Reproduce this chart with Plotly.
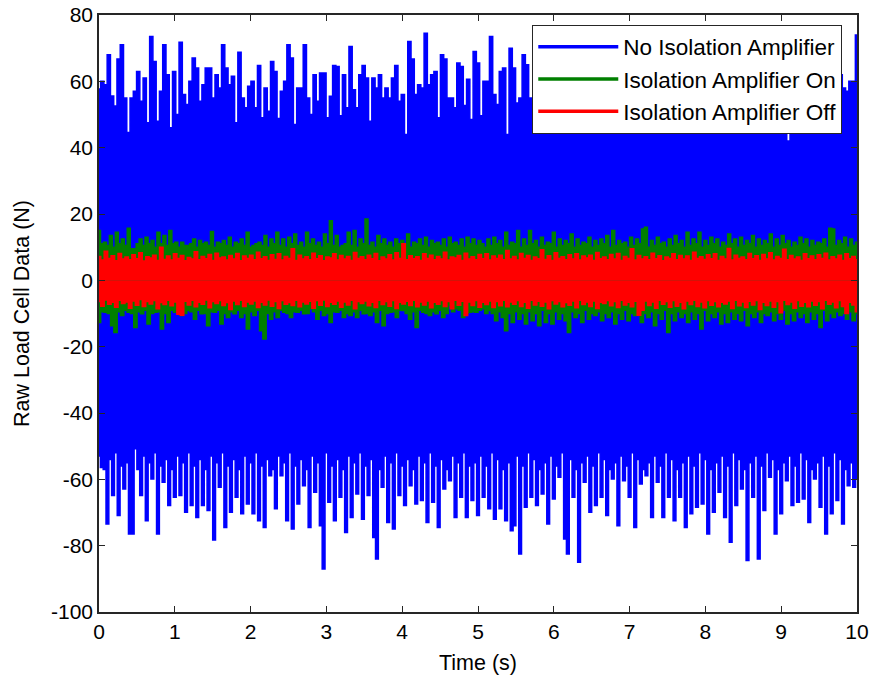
import numpy as np
import plotly.graph_objects as go

# ---- Data (estimated envelope samples, N) ----
# Blue: "No Isolation Amplifier" upper and lower sample extremes
blue_upper = [57.7, 60, 59, 68, 55.6, 52.6, 66.7, 71, 55, 44.6,
              55, 57, 63, 54, 61, 47.5, 73.5, 66, 48, 57,
              71, 62, 46, 63, 50, 71.8, 56, 53, 60, 67,
              64, 54, 59, 64, 64, 55, 62, 58, 71, 64,
              59, 61.5, 47.5, 68.8, 55, 52, 58.5, 60, 52, 64.8,
              49, 58, 51, 66, 63, 48.8, 57, 60, 71, 67,
              47, 58, 58, 71, 55, 50, 62, 54, 62.5, 62.5,
              49, 55.5, 64.8, 64.5, 49.6, 62, 52, 70.5, 57.5, 52,
              62, 64.8, 61, 48, 61, 58, 62, 55, 58, 55,
              61, 64.8, 54, 56, 44, 72, 66.7, 56, 59, 58,
              74.5, 59, 62, 63, 49, 68, 66.7, 55, 55, 52,
              65.5, 64.5, 52.7, 60.6, 48.5, 69, 65.5, 49.6, 60, 60,
              73.5,
              56, 53, 63, 64, 44, 70, 64, 53.5, 55, 68,
              65, 55, 53.5, 53, 70.4, 64,
              55, 62, 48, 66, 58, 71, 52, 60, 64, 50,
              68, 57, 61, 47, 63, 70, 54, 59, 66, 51,
              62, 72, 56, 49, 65, 60, 53, 67, 58, 46,
              63, 69, 55, 61, 52, 66, 59, 71, 50, 57,
              64, 48, 62, 68, 54, 60, 73, 56, 51, 65,
              58, 62, 47, 67, 55, 61, 70, 53, 59, 64,
              49, 66, 57, 62, 52, 68, 60, 55, 71, 50,
              63, 58, 65, 48, 42, 67, 54, 59, 61, 44,
              56, 66, 51, 62, 60, 64, 53, 69, 57, 49,
              62, 58,
              57, 60, 60, 74]

blue_lower = [-53, -56.4, -57, -73.5, -54, -64.9, -52, -70.9, -56, -62.9,
              -55, -76.5, -76.5, -50.8, -57, -64.9, -53, -72.5, -55, -59.9,
              -52, -76.5, -56, -60.9, -54, -67.9, -57, -65.4, -53, -64.9,
              -55, -69.9, -52, -67.9, -56, -71.5, -54, -67.9, -57, -69.4,
              -53, -78.3, -55, -62.4, -52, -74.5, -56, -69.9, -54, -65.4,
              -57, -70.4, -53, -67.4, -55, -70.4, -52, -72.5, -56, -74.5,
              -54, -58.9, -57, -68.9, -53, -58.9, -55, -72.5, -52, -75,
              -56, -67.4, -54, -61.9, -57, -74.5, -53, -63.9, -55, -74,
              -87, -52, -66.9, -56, -72.5, -54, -65.4, -57, -76, -53,
              -71.5, -55, -64.4, -52, -72, -56, -64.9, -54, -77.5, -84,
              -57, -62.4, -53, -73, -55, -75, -52, -64.9, -56, -67.9,
              -54, -61.9, -57, -67.4, -53, -66.4, -55, -73, -52, -66.9,
              -56, -74.5, -54, -62.9, -57, -60.4, -53, -71.5, -55, -65.4,
              -52, -71.5, -56, -66.4,
              -55, -70.9, -53, -65.4, -56, -68.9, -52, -72, -54, -68.9,
              -57, -72.5, -55, -75.5, -74, -53, -82.5, -56, -68.4, -52,
              -65.4, -54, -67.9, -57, -64.4, -55, -73.5, -53, -65.9, -56,
              -59.4, -52, -78, -82.5, -54, -65.4, -57, -85, -55, -60.9,
              -53, -69.9, -56, -67.9, -52, -65.4, -54, -70.9, -57, -59.9,
              -55, -74, -53, -60.4, -56, -65.4, -52, -74.5, -54, -61.4,
              -57, -58.9, -55, -71.5, -53, -60.9, -56, -71.5, -52, -65.4,
              -54, -72.5, -57, -65.4, -55, -74.5, -53, -70.4, -56, -68.4,
              -52, -67.4, -54, -76.5, -57, -69.9, -55, -63.9, -53, -71.5,
              -56, -79, -52, -67.9, -54, -62.9, -57, -84.5, -55, -65.4,
              -53, -84, -56, -69.4, -52, -59.4, -54, -76.5, -57, -70.4,
              -55, -60.4, -53, -67.9, -56, -66.9, -52, -65.9, -54, -73,
              -57, -59.9, -55, -68.4, -53, -76.5, -56, -70.4, -52, -66.4,
              -54, -73.5, -57, -61.9, -55, -62.4, -60]

# Green: "Isolation Amplifier On"
green_upper = [15, 11, 11.5, 10.5, 13.5, 10, 14.5, 11, 12.5, 10.5,
               15.7, 9.5, 9.5, 11, 12.5, 10.5, 13, 11, 12, 10,
               14.5, 11, 13.5, 10.5, 15, 11, 11.5, 10, 11.5, 10.5,
               10.5, 11, 12.5, 10, 12, 11, 11.5, 10.5, 14.7, 10,
               11.5, 11, 12, 10.5, 13, 10, 11.5, 11, 12.5, 10.5,
               14.5, 10, 10.5, 11, 11.5, 10.5, 13.5, 10, 12.5, 11,
               14.5, 10.5, 12.5, 10, 13, 11, 14, 10.5, 11.5, 10,
               14.5, 11, 12.5, 10.5, 11.5, 10, 14, 11, 18, 10.5,
               13.5, 10, 10.5, 11, 14.5, 10.5, 15, 10, 12.5, 11,
               18.5, 10.5, 11.5, 10, 13.5, 11, 12.5, 10.5, 11.5, 10,
               12.5, 11, 12, 10.5, 14, 10, 11.5, 11, 12.5, 10.5,
               13, 10, 12, 11, 11.5, 10.5, 12.5, 10, 13, 11,
               11.5, 10.5, 12.5, 10, 13, 11, 12.5, 10.5, 12,
               11, 10, 12.5, 10.5, 13, 11, 12, 10, 14.5, 10.5,
               11.5, 11, 15, 10, 12.5, 10.5, 15, 11, 12, 10,
               13, 10.5, 11.5, 11, 14.5, 10, 12.5, 10.5, 12, 11,
               14, 10, 12.5, 10.5, 11.5, 11, 13, 10, 12, 10.5,
               12.5, 11, 13.5, 10, 15, 10.5, 12, 11, 11.5, 10,
               13, 10.5, 12.5, 11, 15.5, 16, 10, 12, 10.5, 13,
               11, 11.5, 10, 12.5, 10.5, 13.5, 11, 12, 10, 14.5,
               10.5, 12.5, 11, 14.5, 10, 12, 10.5, 13, 11, 12.5,
               10, 11.5, 10.5, 14, 11, 12.5, 10, 13, 10.5, 12,
               11, 13.5, 10, 12.5, 10.5, 12, 11, 14, 10, 12.5,
               10.5, 13.5, 11, 12, 10, 11.5, 10.5, 13, 11, 12.5,
               10, 12, 10.5, 11.5, 11, 12.5, 10, 15.7, 15.5, 10.5,
               12, 11, 13, 10, 12.5, 10.5, 11.5]

green_lower = [-12.7, -9.5, -9.6, -10, -13.7, -15.7, -9.5, -10.6, -9, -9.6,
               -10, -14.2, -9.5, -10.1, -9, -13.2, -10, -9.6, -9.5, -14.7,
               -10, -12.7, -9, -9.6, -9.5, -10.6, -10, -9.1, -9.5, -11.7,
               -9, -10.1, -10, -13.7, -9.5, -9.6, -9, -13.2, -10, -11.2,
               -9.5, -10.1, -9, -11.2, -10, -14.7, -9.5, -10.6, -9, -15.2,
               -17.7, -10, -11.7, -9.5, -11.2, -9, -9.6, -10, -11.2, -9.5,
               -9.6, -9, -10.1, -10, -8.6, -9.5, -11.7, -9, -10.6, -10,
               -12.7, -9.5, -9.6, -9, -11.2, -10, -10.6, -9.5, -11.2, -9,
               -10.1, -10, -10.6, -9.5, -12.7, -9, -13.7, -10, -9.6, -9.5,
               -11.2, -9, -9.1, -10, -11.7, -9.5, -14.2, -9, -9.6, -10,
               -10.6, -9.5, -10.1, -9, -11.2, -10, -7.6, -9.5, -8.6, -9,
               -11.2, -10, -9.6, -9.5, -9.6, -9, -8.6, -10, -9.1,
               -10, -12.2, -9.5, -11.2, -15.2, -10, -12.7, -9.5, -11.7, -10,
               -13.2, -9.5, -12.2, -10, -13.7, -9, -12.7, -10, -13.2, -9.5,
               -11.7, -10, -12.2, -15.7, -9.5, -11.2, -10, -12.7, -9, -11.7,
               -10, -10.6, -9.5, -12.2, -10, -11.2, -9.5, -13.2, -10, -11.7,
               -9, -12.2, -10, -10.6, -9.5, -12.7, -10, -11.2, -9.5, -13.7,
               -10, -11.7, -9, -15.7, -10, -12.2, -9.5, -11.2, -10, -12.7,
               -9.5, -11.7, -10, -14.7, -9, -12.2, -10, -11.2, -9.5, -13.2,
               -10, -12.7, -9.5, -11.7, -10, -12.2, -9, -13.7, -10, -11.2,
               -9.5, -12.7, -10, -10.6, -9.5, -12.2, -10, -11.7, -9, -13.2,
               -10, -12.2, -9.5, -11.2, -10, -12.7, -9.5, -11.7, -10, -14.2,
               -9, -12.2, -10, -11.2, -9.5, -10.6, -10, -11.7, -9.5, -12.2, -10]

# Red: "Isolation Amplifier Off"
red_upper = [7.2, 6.1, 8.8, 6.6, 7.4, 5.9, 8.1, 6.4, 7.0, 6.2,
             7.7, 6.5, 8.3, 5.8, 7.1, 6.7, 7.6, 6.0, 10.0, 6.3,
             7.3, 6.1, 8.0, 6.6, 7.5, 5.9, 6.9, 6.4, 8.6, 6.2,
             7.2, 6.5, 7.8, 6.0, 8.2, 6.7, 7.0, 6.1, 7.5, 6.4,
             8.1, 5.9, 7.3, 6.6, 7.6, 6.2, 8.5, 6.5, 7.1, 6.0,
             7.7, 6.3, 8.0, 6.1, 7.2, 6.6, 9.5, 6.0, 7.6, 6.4,
             7.1, 6.2, 8.2, 6.5, 7.4, 5.9, 7.0, 6.7, 8.0, 6.1,
             7.5, 6.4, 7.2, 6.0, 8.4, 6.6, 7.1, 6.2, 7.6, 6.5,
             8.1, 5.9, 7.0, 6.4, 7.7, 6.1, 8.3, 6.6, 11.0, 6.2,
             7.4, 6.5, 7.1, 6.0, 8.0, 6.6, 7.6, 6.2, 7.2, 6.4,
             8.5, 6.1, 7.0, 6.7, 7.5, 6.0, 8.2, 6.4, 7.1, 6.2,
             7.8, 6.5, 8.0, 6.1, 7.3, 6.6, 7.6, 6.2,
             9.0, 6.4, 7.2, 6.1, 8.1, 6.6, 7.5, 6.0, 7.0, 6.5,
             9.2, 6.3, 7.4, 6.0, 8.3, 6.6, 7.1, 6.2, 7.7, 6.4,
             8.0, 6.1, 7.3, 6.7, 7.6, 6.0, 8.4, 6.5, 7.0, 6.2,
             7.8, 6.4, 8.1, 6.0, 7.2, 6.6, 9.5, 6.1, 7.5, 6.4,
             7.1, 6.2, 8.2, 6.5, 7.4, 5.9, 7.0, 6.6, 8.0, 6.2,
             7.5, 6.4, 7.3, 6.0, 8.5, 6.6, 7.1, 6.3, 7.7, 6.5,
             8.0, 6.0, 7.2, 6.4, 9.6, 6.1, 7.6, 6.6, 7.0, 6.2,
             8.1, 6.5, 7.4, 6.0, 7.8, 6.4, 8.3, 6.1, 7.2, 6.6,
             9.4, 6.2, 7.5, 6.4, 7.0, 6.0, 8.0, 6.5, 7.3, 6.2,
             7.7, 6.6, 8.2, 6.1, 7.1, 6.4, 7.6, 6.0, 8.0, 6.5,
             7.2, 6.2]

red_lower = [-6.4, -7.8, -5.9, -7.2, -6.6, -8.1, -6.0, -7.0, -6.5, -8.4,
             -6.2, -7.5, -5.8, -7.9, -6.4, -7.1, -6.1, -8.6, -6.7, -7.3,
             -6.0, -7.7, -6.5, -10.2, -10.5, -6.3, -7.4, -6.0, -8.0, -6.6,
             -7.2, -5.9, -8.3, -6.4, -7.0, -6.1, -7.6, -6.7, -8.8, -6.2,
             -7.3, -6.0, -7.9, -6.5, -7.1, -6.2, -8.2, -6.6, -7.4, -5.9,
             -7.8, -6.4, -8.5, -6.1, -7.2, -6.7, -7.6, -6.0, -8.0, -6.5,
             -7.1, -6.3, -8.4, -6.1, -7.5, -5.9, -7.9, -6.6, -7.2, -6.2,
             -8.1, -6.5, -7.4, -6.0, -8.6, -6.4, -7.0, -6.2, -7.7, -6.6,
             -8.2, -6.0, -7.3, -6.4, -7.8, -6.1, -8.5, -6.6, -7.1, -6.3,
             -7.6, -6.0, -8.0, -6.5, -7.4, -6.2, -8.3, -6.6, -7.2, -6.1,
             -7.9, -6.4, -8.6, -6.0, -7.5, -6.3, -10.6, -6.5, -7.6, -6.1,
             -8.1, -6.6, -7.3, -6.2, -8.2, -6.4, -7.7, -6.0,
             -8.0, -6.5, -7.2, -6.1, -7.9, -6.6, -8.4, -6.0, -7.4, -6.3,
             -7.8, -6.5, -8.6, -6.1, -7.1, -6.4, -8.0, -6.7, -7.5, -6.2,
             -8.3, -6.0, -7.3, -6.5, -7.9, -6.2, -8.5, -6.6, -7.0, -6.1,
             -7.7, -6.4, -8.2, -6.0, -7.4, -6.6, -8.0, -6.3, -10.5, -9.0,
             -6.2, -7.6, -6.5, -8.4, -6.0, -7.2, -6.4, -8.1, -6.1, -7.8,
             -6.6, -8.6, -6.2, -7.3, -6.0, -7.9, -6.5, -8.3, -6.1, -7.5,
             -6.4, -8.0, -6.6, -7.1, -6.2, -8.5, -6.0, -7.7, -6.5, -8.2,
             -6.3, -7.4, -6.1, -8.8, -6.6, -7.6, -6.2, -8.1, -6.4, -9.8,
             -6.0, -7.3, -6.5, -8.4, -6.1, -7.8, -6.6, -8.0, -6.2, -7.5,
             -6.4, -8.6, -6.0, -7.2, -6.5, -8.3, -6.1, -7.9, -10.0, -6.6,
             -7.4, -9.5]

x_ticks = list(range(0, 11))
x_tick_labels = [str(v) for v in x_ticks]
y_ticks = list(range(-100, 81, 20))
y_tick_labels = [str(v) for v in y_ticks]   # plain hyphen minus, as in the reference

series = [
    ("No Isolation Amplifier", "#0000FF", blue_upper, blue_lower),
    ("Isolation Amplifier On", "#007F00", green_upper, green_lower),
    ("Isolation Amplifier Off", "#FF0000", red_upper, red_lower),
]

fig = go.Figure()
for name, color, up, lo in series:
    for vals in (up, lo):
        t = np.linspace(0, 10, len(vals))
        fig.add_trace(go.Scatter(
            x=t, y=vals, mode="lines", line=dict(color=color, width=1.5, shape="hvh"),
            fill="tozeroy", fillcolor=color, showlegend=False, legendgroup=name,
            hoverinfo="skip"))
    # legend entry
    fig.add_trace(go.Scatter(x=[None], y=[None], mode="lines", name=name,
                             legendgroup=name, line=dict(color=color, width=3.5)))

font_family = "Liberation Sans, Arial, sans-serif"
axis_common = dict(
    showline=True, linecolor="#262626", linewidth=1.5, mirror="ticks",
    ticks="inside", ticklen=6, tickwidth=1, tickcolor="#262626",
    showgrid=False, zeroline=False, automargin=False, ticklabeloverflow="allow",
    tickfont=dict(family=font_family, size=21, color="black"),
)

fig.update_layout(
    width=873, height=675,
    margin=dict(l=99, r=16, t=15, b=63),
    paper_bgcolor="white", plot_bgcolor="white",
    font=dict(family=font_family, size=21, color="black"),
    xaxis=dict(range=[0, 10], tickvals=x_ticks, ticktext=x_tick_labels,
               title=dict(text="Time (s)", font=dict(size=21.5)),
               **axis_common),
    yaxis=dict(range=[-100, 80], tickvals=y_ticks, ticktext=y_tick_labels,
               title=dict(text="Raw Load Cell Data (N)", font=dict(size=21.5)),
               **axis_common),
    legend=dict(x=0.5716, y=0.984, xanchor="left", yanchor="top",
                bgcolor="white", bordercolor="#262626", borderwidth=1,
                font=dict(family=font_family, size=22.5, color="black"),
                traceorder="grouped", tracegroupgap=0, itemwidth=80),
    showlegend=True,
)

# remove the page's default body margin so the 873x675 figure fills the window
fig.write_html("out.html", config={"displayModeBar": False},
               post_script="document.body.style.margin='0';document.body.style.overflow='hidden';")
